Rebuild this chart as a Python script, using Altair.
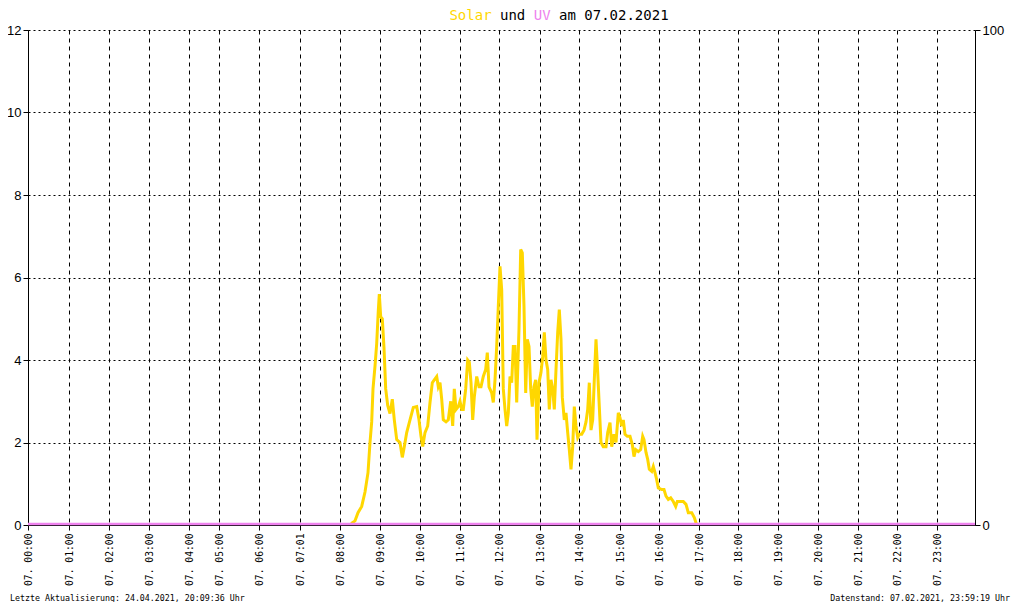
import altair as alt
import pandas as pd

# x axis: sample slot index (the original plots samples, not linear time)
tick_idx = [0, 41, 81, 121, 161, 191, 231, 272, 312, 352, 392, 432, 471, 512,
            551, 592, 631, 671, 710, 750, 790, 830, 869, 909]
tick_lbl = ["07. 00:00", "07. 01:00", "07. 02:00", "07. 03:00", "07. 04:00",
            "07. 05:00", "07. 06:00", "07. 07:01", "07. 08:00", "07. 09:00",
            "07. 10:00", "07. 11:00", "07. 12:00", "07. 13:00", "07. 14:00",
            "07. 15:00", "07. 16:00", "07. 17:00", "07. 18:00", "07. 19:00",
            "07. 20:00", "07. 21:00", "07. 22:00", "07. 23:00"]

solar_idx = [0, 323, 324, 327, 330, 333.7, 337, 340, 342, 343.7, 345, 347, 348.7,
             350.3, 351.3, 352.7, 354.3, 356, 357.7, 359.7, 362, 364.3, 366.3, 368.7,
             372, 374.3, 376.3, 378.7, 382, 385.3, 388.7, 391, 393, 394.7, 397, 399.7,
             402, 404.3, 406.3, 408.7, 410.3, 412, 413.7, 415.3, 418, 420.3, 422.7,
             424.7, 426.3, 428, 430.3, 432, 433.7, 435.3, 437.7, 439.7, 441.3, 443,
             444.7, 446.3, 448.7, 451, 453, 455.3, 457.7, 459.3, 461, 463.7, 465.3,
             467, 468.7, 470.3, 472, 473.7, 475.3, 477, 478.7, 480.3, 482, 483.7,
             485.3, 487, 488.7, 491, 492.7, 494.3, 496, 497.7, 499.3, 501, 502.7,
             504.3, 506, 507.7, 509, 511, 513, 514.7, 516.3, 518, 519.7, 521.3, 523,
             524.7, 526.3, 528, 529.7, 531.3, 533, 534.3, 536.3, 538, 539.7, 541.3,
             543, 544.7, 546.3, 548, 549.7, 551.3, 553.7, 556, 558, 559.7, 561.3,
             563, 564.7, 566.3, 568, 569.7, 571.3, 573, 575.3, 578, 579.7, 582,
             583.7, 586, 588, 590.3, 592, 593.7, 595.3, 597, 599.3, 602, 604.3, 606,
             607.7, 610.3, 612.7, 614.7, 616, 618, 619.7, 621.3, 623.7, 625.3, 627,
             628.7, 630.3, 633.7, 636, 638, 640.3, 642.7, 645.3, 647.7, 649.3, 652,
             655.3, 658, 660.3, 663.7, 666.3, 668.7, 947]
solar_val = [0, 0, 0.05, 0.1, 0.3, 0.45, 0.8, 1.27, 2.0, 2.5, 3.3, 3.85, 4.4,
             5.2, 5.6, 5.05, 5.0, 4.3, 3.3, 2.9, 2.7, 3.05, 2.55, 2.07,
             2.0, 1.64, 1.9, 2.24, 2.55, 2.85, 2.87, 2.55, 2.15, 1.9, 2.24, 2.4,
             2.97, 3.45, 3.52, 3.6, 3.35, 3.45, 3.05, 2.55, 2.5, 2.55, 3.0,
             2.4, 3.3, 2.8, 2.87, 3.0, 2.8, 2.8, 3.3, 4.0, 3.95, 3.45,
             2.55, 3.1, 3.6, 3.35, 3.35, 3.6, 3.77, 4.18, 3.35, 3.2, 2.97,
             3.52, 4.33, 5.3, 6.27, 5.7, 3.3, 2.8, 2.4, 2.72, 3.6, 3.45,
             4.33, 4.33, 2.97, 4.75, 6.68, 6.6, 5.3, 3.2, 4.5, 4.33, 3.3,
             2.87, 3.35, 3.52, 2.07, 3.45, 3.7, 4.08, 4.67, 4.0, 3.77, 2.8, 3.52,
             3.3, 2.8, 3.77, 4.67, 5.22, 4.5, 3.1, 2.55, 2.72, 2.24, 1.83,
             1.35, 1.9, 2.87, 2.4, 2.12, 2.2, 2.2, 2.3, 2.5, 2.8, 3.45,
             2.3, 2.55, 3.52, 4.5, 3.7, 2.87, 2.0, 1.9, 1.9, 2.24, 2.48,
             1.9, 2.2, 2.0, 2.72, 2.6, 2.4, 2.55, 2.2, 2.15, 2.15, 1.95, 1.66,
             1.83, 1.78, 1.83, 2.15, 2.07, 1.76, 1.59, 1.35, 1.3, 1.42, 1.27,
             1.1, 0.9, 0.86, 0.86, 0.7, 0.62, 0.66, 0.57, 0.45, 0.57, 0.57,
             0.57, 0.5, 0.3, 0.3, 0.18, 0.0, 0]

uv_idx = [0, 947]
uv_val = [0, 0]

title_parts = ["Solar", "und", "UV", "am 07.02.2021"]
title_colors = ["#FFD700", "#000000", "#EE82EE", "#000000"]
footer_left = "Letzte Aktualisierung: 24.04.2021, 20:09:36 Uhr"
footer_right = "Datenstand: 07.02.2021, 23:59:19 Uhr"

W, H = 947, 495
MONO = "DejaVu Sans Mono"
SANS = "Liberation Sans"

label_expr = "[" + ",".join("'%s'" % s for s in tick_lbl) + "][indexof([" + \
    ",".join(str(v) for v in tick_idx) + "], datum.value)]"

xscale = alt.Scale(domain=[0, 947], nice=False, zero=False)
xaxis = alt.Axis(values=tick_idx, labelExpr=label_expr, labelAngle=270,
                 labelFont=MONO, labelFontSize=9.7, labelColor="#000",
                 labelPadding=3, tickSize=5, tickColor="#000",
                 domainColor="#000", grid=True, gridColor="#000",
                 gridDash=[4, 4], gridWidth=1, title=None,
                 labelOverlap=False, labelFlush=False, labelBound=False)

solar_df = pd.DataFrame({"idx": solar_idx, "val": solar_val})
uv_df = pd.DataFrame({"idx": uv_idx, "val": uv_val})

solar = alt.Chart(solar_df).mark_line(color="#FFD700", strokeWidth=3,
                                      strokeJoin="miter", clip=True).encode(
    x=alt.X("idx:Q", scale=xscale, axis=xaxis),
    y=alt.Y("val:Q", scale=alt.Scale(domain=[0, 12], nice=False),
            axis=alt.Axis(values=[0, 2, 4, 6, 8, 10, 12], orient="left",
                          labelFont=SANS, labelFontSize=13, labelColor="#000",
                          labelPadding=2, tickSize=5, tickColor="#000",
                          domainColor="#000", grid=True, gridColor="#000",
                          gridDash=[2, 3], gridWidth=1, title=None))
)

uv = alt.Chart(uv_df).mark_line(color="#EE82EE", strokeWidth=2.5, yOffset=-1).encode(
    x=alt.X("idx:Q", scale=xscale, axis=xaxis),
    y=alt.Y("val:Q", scale=alt.Scale(domain=[0, 100], nice=False),
            axis=alt.Axis(values=[0, 100], orient="right", labelFont=SANS,
                          labelFontSize=13, labelColor="#000", labelPadding=2,
                          tickSize=5, tickColor="#000", domainColor="#000",
                          grid=False, title=None))
)

# title as coloured segments (monospace)
FS = 14
cw = 0.602 * FS
full = " ".join(title_parts)
start = 531 - len(full) * cw / 2
title_layers = []
acc = 0
for p, c in zip(title_parts, title_colors):
    title_layers.append(
        alt.Chart(pd.DataFrame({"t": [p]})).mark_text(
            font=MONO, fontSize=FS, align="left", baseline="top", color=c
        ).encode(x=alt.value(start + acc * cw), y=alt.value(-21), text="t:N")
    )
    acc += len(p) + 1

foot_l = alt.Chart(pd.DataFrame({"t": [footer_left]})).mark_text(
    font=MONO, fontSize=8.3, align="left", baseline="alphabetic", color="#000"
).encode(x=alt.value(-18), y=alt.value(571), text="t:N")
foot_r = alt.Chart(pd.DataFrame({"t": [footer_right]})).mark_text(
    font=MONO, fontSize=8.3, align="right", baseline="alphabetic", color="#000"
).encode(x=alt.value(982), y=alt.value(571), text="t:N")

chart = alt.layer(solar, uv, *title_layers, foot_l, foot_r).resolve_scale(
    y="independent"
).properties(
    width=W, height=H,
    autosize=alt.AutoSizeParams(type="none"),
    padding={"left": 20, "top": 22, "right": 37, "bottom": 77},
    background="white",
).configure_view(stroke=None)

chart.save("out.html", embed_options={"renderer": "svg", "actions": False})
